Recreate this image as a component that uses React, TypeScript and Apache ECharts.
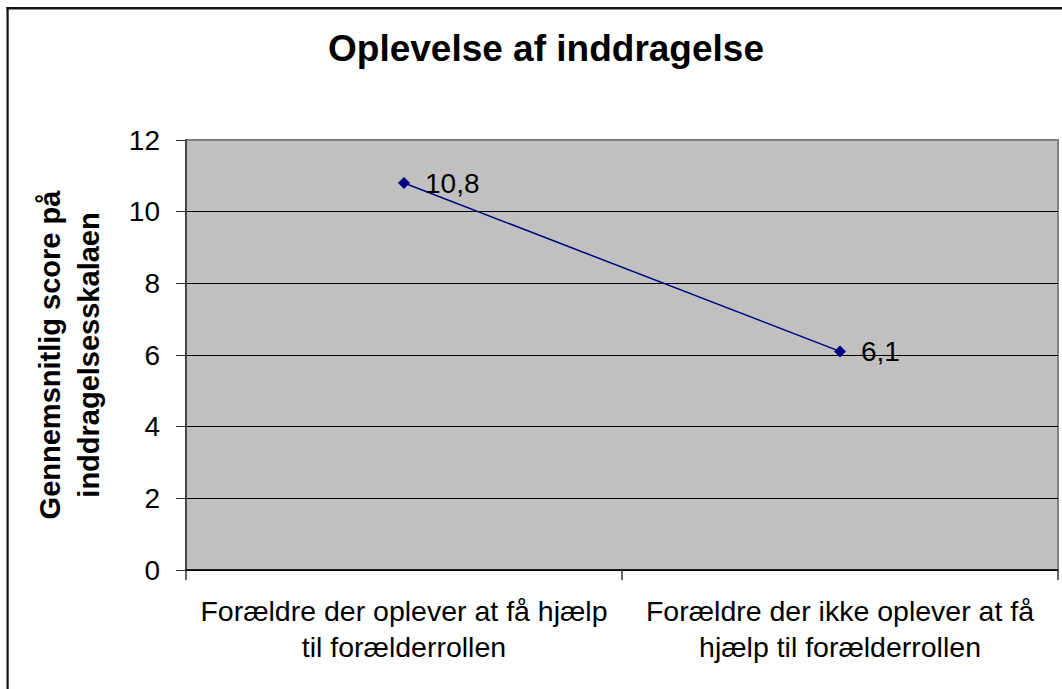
import React, { useEffect, useRef } from "react";
import * as echarts from "echarts";

const categories = [
  "Forældre der oplever at få hjælp\ntil forælderrollen",
  "Forældre der ikke oplever at få\nhjælp til forælderrollen",
];
const scores = [10.8, 6.1];
const yTicks = { min: 0, max: 12, interval: 2 };
const titleText = "Oplevelse af inddragelse";
const yName = "Gennemsnitlig score på\ninddragelsesskalaen";

const FONT = "'Liberation Sans', Arial, sans-serif";

export default function App() {
  const ref = useRef<HTMLDivElement>(null);
  useEffect(() => {
    if (!ref.current) return;
    const chart = echarts.init(ref.current, undefined, { renderer: "svg" });
    chart.setOption({
      animation: false,
      backgroundColor: "#ffffff",
      textStyle: { fontFamily: FONT },
      title: {
        text: titleText,
        left: 541,
        top: 25,
        textAlign: "center",
        textStyle: { fontFamily: FONT, fontSize: 37, fontWeight: "bold", color: "#000" },
      },
      graphic: [
        {
          type: "rect",
          shape: { x: 6.5, y: 7, width: 1062, height: 2.5 },
          style: { fill: "#111", stroke: "none" },
          silent: true,
          z: 100,
        },
        {
          type: "rect",
          shape: { x: 6.5, y: 7, width: 2.2, height: 690 },
          style: { fill: "#111", stroke: "none" },
          silent: true,
          z: 100,
        },
      ],
      grid: {
        left: 186,
        top: 140,
        right: 4,
        bottom: 119,
        outerBoundsMode: "none",
        containLabel: false,
        show: true,
        backgroundColor: "#C0C0C0",
        borderColor: "#808080",
        borderWidth: 2,
      },
      xAxis: {
        type: "category",
        data: categories,
        boundaryGap: true,
        axisLine: { show: true, lineStyle: { color: "#000", width: 1.5 } },
        axisTick: { show: true, length: 10, lineStyle: { color: "#333", width: 1.5 } },
        axisLabel: {
          interval: 0,
          fontFamily: FONT,
          fontSize: 28.5,
          lineHeight: 36,
          color: "#000",
          margin: 23,
        },
        splitLine: { show: false },
      },
      yAxis: {
        type: "value",
        min: yTicks.min,
        max: yTicks.max,
        interval: yTicks.interval,
        name: yName,
        nameLocation: "middle",
        nameRotate: 90,
        nameGap: 78,
        nameTextStyle: {
          fontFamily: FONT,
          fontSize: 29,
          fontWeight: "bold",
          color: "#000",
          lineHeight: 39,
          align: "center",
        },
        axisLine: { show: true, lineStyle: { color: "#333", width: 1.5 } },
        axisTick: { show: true, length: 10, lineStyle: { color: "#333", width: 1 } },
        axisLabel: {
          fontFamily: FONT,
          fontSize: 28,
          color: "#000",
          margin: 26,
        },
        splitLine: {
          show: true,
          lineStyle: {
            color: ["#000", "#000", "#000", "#000", "#000", "#000", "#808080"],
            width: 1,
          },
        },
      },
      series: [
        {
          type: "line",
          data: scores,
          symbol: "diamond",
          symbolSize: 12,
          lineStyle: { color: "#000080", width: 1.5 },
          itemStyle: { color: "#000080" },
          label: {
            show: true,
            position: "right",
            distance: 15,
            fontFamily: FONT,
            fontSize: 28,
            color: "#000",
            formatter: (p: any) => String(p.value).replace(".", ","),
          },
        },
      ],
    });
    return () => chart.dispose();
  }, []);
  return (
    <div
      ref={ref}
      style={{ position: "fixed", left: 0, top: 0, width: 1062, height: 689 }}
    />
  );
}
